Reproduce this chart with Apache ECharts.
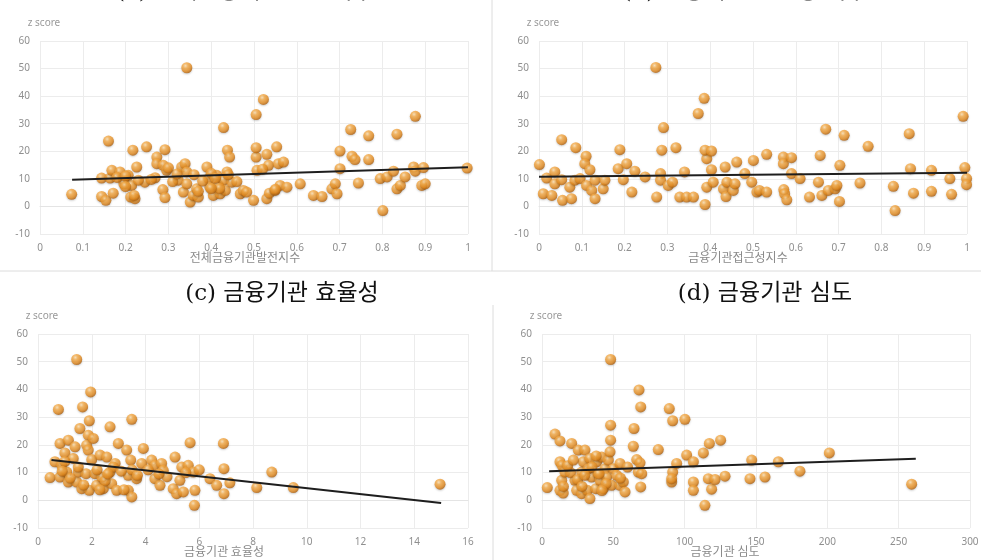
<!DOCTYPE html>
<html>
<head>
<meta charset="utf-8">
<script src="https://cdn.jsdelivr.net/npm/echarts@6/dist/echarts.min.js"></script>
<style>
  html, body { margin: 0; padding: 0; background: #fff; }
  #main { width: 981px; height: 560px; }
</style>
</head>
<body>
<div id="main"></div>
<script>
// panel titles and axis names
const titles = ['(a) 전체금융기관 발전지수', '(b) 금융기관 접근성 지수', '(c) 금융기관 효율성', '(d) 금융기관 심도'];
const xNames = ['전체금융기관발전지수', '금융기관접근성지수', '금융기관 효율성', '금융기관 심도'];
const yName = 'z score';
const yTicks = [-10, 0, 10, 20, 30, 40, 50, 60];

// (a) overall financial institutions development index
const aX = [0.074, 0.144, 0.164, 0.168, 0.187, 0.144, 0.154, 0.171, 0.195, 0.196, 0.214, 0.212, 0.222, 0.217, 0.226, 0.206, 0.245, 0.249, 0.269, 0.273,
    0.273, 0.292, 0.288, 0.296, 0.287, 0.292, 0.323, 0.331, 0.339, 0.343, 0.335, 0.343, 0.351, 0.358, 0.366, 0.370, 0.390, 0.394, 0.397, 0.405,
    0.413, 0.417, 0.421, 0.429, 0.437, 0.438, 0.443, 0.433, 0.448, 0.468, 0.475, 0.483, 0.499, 0.505, 0.505, 0.507, 0.530, 0.534, 0.530, 0.536,
    0.553, 0.557, 0.569, 0.561, 0.549, 0.577, 0.608, 0.639, 0.659, 0.682, 0.690, 0.694, 0.701, 0.701, 0.729, 0.736, 0.744, 0.768, 0.768, 0.795,
    0.811, 0.801, 0.826, 0.834, 0.842, 0.834, 0.853, 0.873, 0.877, 0.896, 0.892, 0.900, 0.998, 0.343, 0.522, 0.505, 0.429, 0.726, 0.877, 0.160,
    0.18, 0.20, 0.23, 0.26, 0.31, 0.32, 0.36, 0.38, 0.40, 0.41, 0.44, 0.46, 0.37, 0.42, 0.30, 0.55, 0.52, 0.20, 0.22, 0.40];
const aY = [4.4, 10.3, 10.3, 13.1, 12.5, 3.6, 2.2, 4.8, 9.7, 8.2, 7.6, 3.4, 2.8, 20.4, 14.3, 11.3, 8.8, 21.6, 10.4, 17.9,
    15.5, 20.6, 14.9, 13.1, 6.1, 3.2, 9.5, 14.3, 15.5, 12.5, 5.2, 8.2, 1.6, 4.0, 6.4, 3.4, 14.3, 10.1, 7.0, 4.0,
    11.3, 7.6, 4.6, 9.5, 12.5, 20.4, 17.9, 5.8, 8.8, 4.6, 5.8, 5.2, 2.2, 17.9, 21.3, 13.1, 18.9, 14.9, 2.8, 4.8,
    21.6, 15.5, 16.1, 7.6, 5.8, 7.0, 8.2, 4.0, 3.6, 6.4, 8.2, 4.6, 13.7, 20.1, 18.2, 17.0, 8.5, 17.0, 25.6, 10.1,
    10.7, -1.5, 12.8, 6.4, 7.6, 26.2, 10.7, 14.3, 12.8, 14.1, 7.6, 8.2, 13.9, 50.3, 38.8, 33.3, 28.6, 27.9, 32.7, 23.7,
    10.5, 11.0, 9.5, 9.8, 9.0, 11.8, 11.5, 9.2, 12.0, 10.2, 11.5, 9.0, 5.5, 6.5, 14.0, 6.2, 13.5, 7.2, 4.0, 6.5];

// (b) access index
const bX = [0.273, 0.386, 0.372, 0.291, 0.670, 0.713, 0.865, 0.991, 0.053, 0.001, 0.010, 0.018, 0.030, 0.037, 0.037, 0.053, 0.055, 0.072, 0.076, 0.084,
    0.086, 0.096, 0.110, 0.107, 0.111, 0.119, 0.123, 0.131, 0.131, 0.150, 0.154, 0.185, 0.189, 0.197, 0.205, 0.217, 0.224, 0.248, 0.275, 0.287,
    0.284, 0.284, 0.302, 0.312, 0.320, 0.329, 0.340, 0.345, 0.361, 0.388, 0.392, 0.392, 0.388, 0.403, 0.403, 0.407, 0.431, 0.435, 0.437, 0.439,
    0.454, 0.458, 0.462, 0.481, 0.497, 0.501, 0.509, 0.515, 0.532, 0.532, 0.571, 0.571, 0.572, 0.574, 0.579, 0.590, 0.590, 0.610, 0.632, 0.653,
    0.657, 0.661, 0.676, 0.692, 0.696, 0.702, 0.703, 0.750, 0.769, 0.828, 0.832, 0.868, 0.875, 0.917, 0.917, 0.960, 0.964, 0.995, 0.999, 0.999];
const bY = [50.4, 39.2, 33.7, 28.6, 28.0, 25.8, 26.4, 32.7, 24.2, 15.2, 4.6, 10.3, 4.0, 12.5, 8.2, 9.7, 2.2, 7.0, 2.8, 9.5,
    21.3, 10.1, 18.2, 15.5, 7.6, 13.3, 5.8, 9.5, 2.8, 6.4, 9.5, 13.7, 20.6, 9.7, 15.5, 5.2, 12.8, 10.7, 3.4, 20.4,
    11.9, 9.5, 7.6, 8.8, 21.3, 3.4, 12.5, 3.4, 3.4, 0.7, 7.0, 17.3, 20.4, 20.1, 13.3, 8.8, 6.4, 14.3, 3.6, 8.8,
    5.8, 8.2, 16.1, 11.9, 8.8, 16.7, 5.2, 5.8, 5.2, 18.9, 17.9, 15.5, 6.1, 4.6, 2.4, 17.7, 11.9, 10.1, 3.4, 8.8,
    18.5, 4.0, 5.8, 6.4, 7.6, 1.8, 14.9, 8.5, 21.8, 7.3, -1.5, 13.7, 4.8, 13.1, 5.5, 10.1, 4.4, 14.1, 10.1, 7.9];

// (c) efficiency
const cX = [1.44, 1.96, 1.66, 0.76, 1.91, 3.49, 0.45, 0.82, 1.00, 1.13, 0.63, 0.88, 0.82, 1.07, 1.13, 1.31, 1.38, 1.44, 1.56, 1.50,
    1.63, 1.79, 1.87, 1.81, 1.87, 1.91, 2.00, 2.06, 2.12, 2.18, 2.31, 2.37, 2.43, 2.56, 2.68, 2.68, 2.74, 2.87, 2.93, 2.99,
    3.30, 3.36, 3.36, 3.45, 3.49, 3.67, 3.92, 3.86, 4.23, 4.35, 4.35, 4.54, 4.60, 4.66, 5.03, 5.10, 5.16, 5.28, 5.35, 5.41,
    5.66, 5.59, 5.78, 5.84, 5.82, 6.40, 6.65, 6.90, 6.92, 6.92, 7.14, 8.14, 8.70, 9.50, 14.96,
    1.2, 1.5, 2.2, 2.5, 2.8, 3.1, 3.5, 3.7, 4.1, 4.8, 5.5, 1.0, 1.7, 2.3, 0.9, 2.6, 3.2, 4.5, 6.0];
const cY = [50.8, 39.1, 33.7, 32.8, 28.7, 29.2, 8.2, 20.5, 17.1, 21.7, 13.9, 12.6, 8.4, 10.2, 6.6, 15.1, 19.3, 6.6, 25.9, 10.2,
    4.2, 9.6, 23.5, 19.9, 18.1, 3.6, 14.7, 22.3, 9.6, 5.4, 16.3, 8.4, 4.2, 15.6, 26.5, 10.2, 6.0, 13.3, 3.6, 20.5,
    18.1, 9.0, 3.6, 14.5, 1.2, 7.8, 18.7, 13.3, 14.5, 12.6, 7.8, 5.4, 13.3, 10.8, 4.2, 15.6, 2.4, 7.2, 12.0, 3.0,
    20.8, 12.6, 10.2, 3.6, -1.8, 7.8, 5.4, 20.5, 11.4, 2.4, 6.3, 4.6, 10.2, 4.6, 5.8,
    8.0, 12.0, 11.0, 7.0, 12.0, 10.5, 11.0, 9.0, 11.0, 8.5, 10.0, 14.0, 5.5, 3.8, 10.5, 9.5, 3.8, 9.5, 11.0];

// (d) depth
const dX = [48.1, 68.0, 69.2, 89.2, 91.6, 100.2, 3.7, 9.1, 12.6, 12.6, 14.0, 12.6, 14.9, 13.8, 16.1, 20.8, 23.1, 24.3, 25.4, 27.8,
    29.0, 30.1, 27.8, 31.8, 33.6, 33.6, 34.8, 32.5, 38.3, 37.8, 39.5, 40.7, 41.8, 43.0, 44.2, 45.3, 46.5, 47.7, 48.1, 48.1,
    48.8, 50.0, 52.4, 54.7, 54.7, 57.0, 58.2, 64.0, 64.5, 66.4, 67.5, 68.7, 69.9, 69.2, 81.5, 90.9, 91.6, 90.9, 94.4, 101.4,
    106.1, 106.1, 106.1, 113.1, 114.2, 116.6, 117.3, 118.9, 121.3, 125.2, 128.3, 145.8, 147.0, 156.3, 165.7, 180.8, 201.4, 259.1,
    20, 25, 35, 40, 45, 18, 28, 38, 55, 60, 22, 30, 42, 15];
const dY = [50.8, 39.8, 33.7, 33.1, 28.7, 29.2, 4.6, 23.9, 21.4, 13.9, 12.6, 3.6, 2.6, 7.2, 10.2, 20.5, 7.2, 3.6, 18.1, 10.2,
    13.9, 18.1, 2.4, 3.6, 0.6, 15.1, 8.4, 11.4, 13.9, 4.2, 9.6, 7.2, 15.6, 4.2, 11.4, 8.4, 14.5, 17.5, 27.1, 21.7,
    5.4, 11.4, 9.0, 13.3, 5.4, 6.6, 3.0, 19.5, 25.9, 14.7, 10.2, 13.5, 9.6, 4.8, 18.3, 6.6, 10.2, 7.8, 13.3, 16.3,
    13.9, 6.6, 3.6, 17.1, -1.8, 7.8, 20.5, 4.0, 7.5, 21.7, 8.7, 7.8, 14.5, 8.4, 13.9, 10.5, 17.1, 5.8,
    10, 7.5, 12, 9.5, 6, 12.5, 5, 16, 8, 12, 14.5, 9, 3.5, 5];

// trend line end points
const aTrend = [[0.075, 9.7], [1.0, 14.2]];
const bTrend = [[0.0, 10.8], [1.0, 12.2]];
const cTrend = [[0.5, 14.5], [15.0, -1.0]];
const dTrend = [[5, 10.5], [262, 15.0]];

const xMax = [1, 1, 16, 300];
const xStep = [0.1, 0.1, 2, 50];

function zip(xs, ys) {
    return xs.map(function(x, i) {
        return [x, ys[i]];
    });
}

const ball = {
    color: new echarts.graphic.RadialGradient(0.38, 0.32, 0.72, [
        { offset: 0, color: '#ffe2b4' },
        { offset: 0.3, color: '#f7ad4a' },
        { offset: 0.7, color: '#e48b1f' },
        { offset: 1, color: '#a95b0b' }
    ]),
    shadowBlur: 2,
    shadowColor: 'rgba(0,0,0,0.25)',
    shadowOffsetY: 1
};

const grids = [
    { left: 40, top: 41, width: 428, height: 193, outerBoundsMode: 'none' },
    { left: 539, top: 41, width: 428, height: 193, outerBoundsMode: 'none' },
    { left: 38, top: 334, width: 430, height: 194, outerBoundsMode: 'none' },
    { left: 542, top: 334, width: 428, height: 194, outerBoundsMode: 'none' }
];
const namePad = [18, 30, 58, 62];
const points = [zip(aX, aY), zip(bX, bY), zip(cX, cY), zip(dX, dY)];
const trends = [aTrend, bTrend, cTrend, dTrend];

var xAxes = [], yAxes = [], series = [];
for (var i = 0; i < 4; i++) {
    xAxes.push({
        type: 'value',
        gridIndex: i,
        min: 0,
        max: xMax[i],
        interval: xStep[i],
        name: xNames[i],
        nameLocation: 'middle',
        nameGap: 17,
        nameMoveOverlap: false,
        nameTextStyle: { color: '#8a8a8a', fontSize: 12, fontFamily: 'Noto Sans CJK KR', padding: [0, namePad[i], 0, 0] },
        axisLine: { onZero: true, lineStyle: { color: '#e4e4e4' } },
        axisTick: { show: false },
        axisLabel: { color: '#8f8f8f', fontSize: 10, fontFamily: 'Noto Sans', margin: 9 },
        splitLine: { lineStyle: { color: '#ececec' } }
    });
    yAxes.push({
        type: 'value',
        gridIndex: i,
        min: yTicks[0],
        max: yTicks[yTicks.length - 1],
        interval: 10,
        name: yName,
        nameLocation: 'end',
        nameGap: 13,
        nameMoveOverlap: false,
        nameTextStyle: { color: '#9a9a9a', fontSize: 10, fontFamily: 'Noto Sans', align: 'center', padding: [0, 0, 0, 8] },
        axisLine: { show: false },
        axisTick: { show: false },
        axisLabel: { color: '#8f8f8f', fontSize: 10, fontFamily: 'Noto Sans', margin: 10 },
        splitLine: { lineStyle: { color: '#ececec' } }
    });
    series.push({
        type: 'scatter',
        xAxisIndex: i,
        yAxisIndex: i,
        symbolSize: 11,
        itemStyle: ball,
        data: points[i],
        z: 2
    });
    series.push({
        type: 'line',
        xAxisIndex: i,
        yAxisIndex: i,
        symbol: 'none',
        lineStyle: { color: '#1e1e1e', width: 2 },
        data: trends[i],
        z: 3
    });
}

const titleStyle = { fill: '#111', fontSize: 23, fontFamily: 'DejaVu Serif, Noto Sans CJK KR', align: 'center', verticalAlign: 'middle' };
const titlePos = [[245, -8], [745, -8], [282, 294], [765, 294]];

var graphics = [
    { type: 'line', shape: { x1: 0, y1: 271, x2: 981, y2: 271 }, style: { stroke: '#dcdcdc', lineWidth: 1 } },
    { type: 'line', shape: { x1: 492, y1: 0, x2: 492, y2: 271 }, style: { stroke: '#dcdcdc', lineWidth: 1 } },
    { type: 'line', shape: { x1: 493, y1: 305, x2: 493, y2: 560 }, style: { stroke: '#dcdcdc', lineWidth: 1 } }
];
titles.forEach(function(t, k) {
    graphics.push({
        type: 'text',
        x: titlePos[k][0],
        y: titlePos[k][1],
        style: Object.assign({ text: t }, titleStyle)
    });
});

var myChart = echarts.init(document.getElementById('main'));
var option = {
    backgroundColor: '#fff',
    animation: false,
    grid: grids,
    xAxis: xAxes,
    yAxis: yAxes,
    series: series,
    graphic: graphics
};
myChart.setOption(option);
</script>
</body>
</html>
